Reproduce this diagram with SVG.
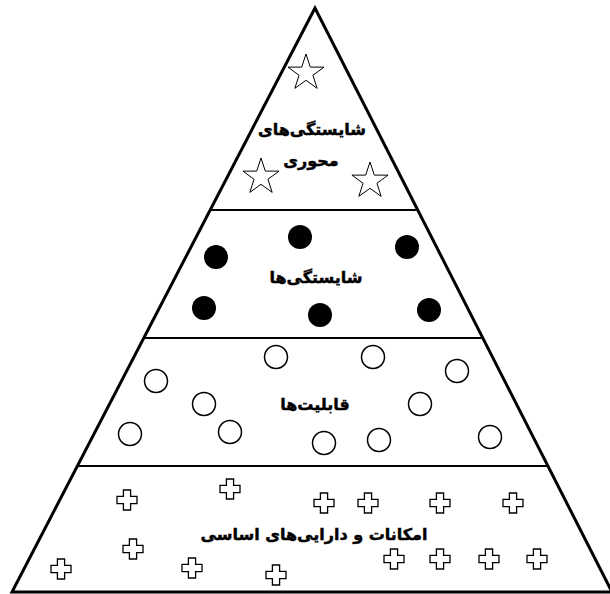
<svg xmlns="http://www.w3.org/2000/svg" xmlns:xlink="http://www.w3.org/1999/xlink" width="610" height="594" viewBox="0 0 610 594">
  <style>
    .lbl { font-family: "DejaVu Sans", "Noto Sans", sans-serif; font-weight: bold; font-size: 16px; fill: #000; stroke: #000; stroke-width: 0.45; text-anchor: middle; }
    .star { fill: #fff; stroke: #000; stroke-width: 1; stroke-linejoin: miter; }
    .dot { fill: #000; }
    .ring { fill: none; stroke: #000; stroke-width: 1.5; }
    .cross { fill: #fff; stroke: #000; stroke-width: 1.3; }
    .sep { stroke: #000; stroke-width: 2; }
  </style>
  <defs>
    <path id="star" d="M0,-19 L4.3,-5.9 L18.07,-5.87 L6.95,2.26 L11.17,15.37 L0,7.3 L-11.17,15.37 L-6.95,2.26 L-18.07,-5.87 L-4.3,-5.9 Z"/>
    <path id="cross" d="M-3.6,-10 H3.6 V-3.6 H10 V3.6 H3.6 V10 H-3.6 V3.6 H-10 V-3.6 H-3.6 Z"/>
  </defs>
  <rect width="610" height="594" fill="#fff"/>

  <g id="pyramid">
    <polygon points="315,8 12,592 612,592" fill="#fff" stroke="#000" stroke-width="3" stroke-linejoin="miter"/>
    <line class="sep" x1="210.2" y1="210" x2="417.7" y2="210"/>
    <line class="sep" x1="143.8" y1="338" x2="482.8" y2="338"/>
    <line class="sep" x1="77.4" y1="466" x2="547.9" y2="466"/>
  </g>

  <g id="core-competencies">
    <use href="#star" class="star" x="306" y="73"/>
    <use href="#star" class="star" x="261" y="177"/>
    <use href="#star" class="star" x="370" y="181"/>
    <text class="lbl" x="312" y="135">شایستگی‌های</text>
    <text class="lbl" x="311" y="166">محوری</text>
  </g>

  <g id="competencies">
    <circle class="dot" cx="300" cy="237" r="12"/>
    <circle class="dot" cx="216" cy="257" r="12"/>
    <circle class="dot" cx="407" cy="247" r="12"/>
    <circle class="dot" cx="204" cy="308" r="12"/>
    <circle class="dot" cx="320" cy="315" r="12"/>
    <circle class="dot" cx="429" cy="310" r="12"/>
    <text class="lbl" x="316" y="283">شایستگی‌ها</text>
  </g>

  <g id="capabilities">
    <circle class="ring" cx="276" cy="357" r="11.5"/>
    <circle class="ring" cx="373" cy="357" r="11.5"/>
    <circle class="ring" cx="457" cy="371" r="11.5"/>
    <circle class="ring" cx="156" cy="381" r="11.5"/>
    <circle class="ring" cx="204" cy="404" r="11.5"/>
    <circle class="ring" cx="420" cy="404" r="11.5"/>
    <circle class="ring" cx="130" cy="434" r="11.5"/>
    <circle class="ring" cx="230" cy="432" r="11.5"/>
    <circle class="ring" cx="324" cy="443" r="11.5"/>
    <circle class="ring" cx="379" cy="440" r="11.5"/>
    <circle class="ring" cx="490" cy="437" r="11.5"/>
    <text class="lbl" x="315" y="410">قابلیت‌ها</text>
  </g>

  <g id="resources">
    <use href="#cross" class="cross" x="127" y="500"/>
    <use href="#cross" class="cross" x="230" y="489"/>
    <use href="#cross" class="cross" x="324" y="503"/>
    <use href="#cross" class="cross" x="368" y="503"/>
    <use href="#cross" class="cross" x="440" y="503"/>
    <use href="#cross" class="cross" x="513" y="503"/>
    <use href="#cross" class="cross" x="133" y="549"/>
    <use href="#cross" class="cross" x="61" y="569"/>
    <use href="#cross" class="cross" x="192" y="568"/>
    <use href="#cross" class="cross" x="276" y="575"/>
    <use href="#cross" class="cross" x="394" y="559"/>
    <use href="#cross" class="cross" x="440" y="559"/>
    <use href="#cross" class="cross" x="489" y="559"/>
    <use href="#cross" class="cross" x="537" y="559"/>
    <text class="lbl" x="314" y="540">امکانات و دارایی‌های اساسی</text>
  </g>
</svg>
